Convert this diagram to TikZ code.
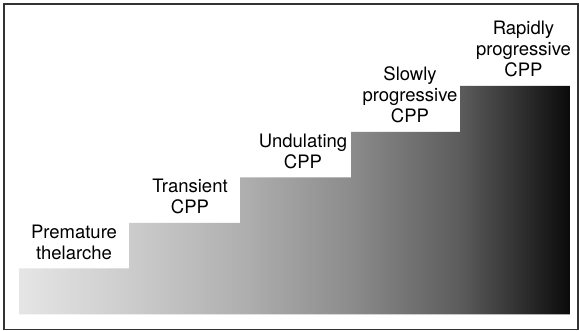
\documentclass[tikz,border=0pt]{standalone}
\usepackage{fontspec}
\setmainfont{TeX Gyre Heros}
\definecolor{sA}{gray}{0.90}
\definecolor{sB}{gray}{0.80}
\definecolor{sC}{gray}{0.69}
\definecolor{sD}{gray}{0.55}
\definecolor{sE}{gray}{0.36}
\definecolor{sF}{gray}{0.04}
\pgfdeclarehorizontalshading{stairshade}{100bp}{color(0bp)=(sA); color(25bp)=(sA); color(35bp)=(sB); color(45bp)=(sC); color(55bp)=(sD); color(65bp)=(sE); color(75bp)=(sF); color(100bp)=(sF)}
\tikzset{
  steplabel/.style={anchor=south, inner sep=0pt, align=center, text=black,
    font=\fontsize{18.5}{21}\selectfont},
  frameline/.style={draw=black!80, line width=1.2pt}
}
\begin{document}
\begin{tikzpicture}[x=1pt,y=-1pt]
\useasboundingbox (0,0) rectangle (579,331);
\fill[white] (0,0) rectangle (579,331);
% staircase
\shade[shading=stairshade]
  (19,314.5) -- (19,268.5) -- (129,268.5) -- (129,223) -- (240,223) -- (240,177.5)
  -- (351,177.5) -- (351,132) -- (460,132) -- (460,86) -- (570.5,86) -- (570.5,314.5) -- cycle;
% labels
\node[steplabel] (l1) at (74,260) {Premature\\thelarche};
\node[steplabel] (l2) at (190,214.5) {Transient\\CPP};
\node[steplabel] (l3) at (303,169) {Undulating\\CPP};
\node[steplabel] (l4) at (410,123.5) {Slowly\\progressive\\CPP};
\node[steplabel] (l5) at (523.5,77.5) {Rapidly\\progressive\\CPP};
% frame
\draw[frameline] (4,4) rectangle (578,329.5);
\end{tikzpicture}
\end{document}
